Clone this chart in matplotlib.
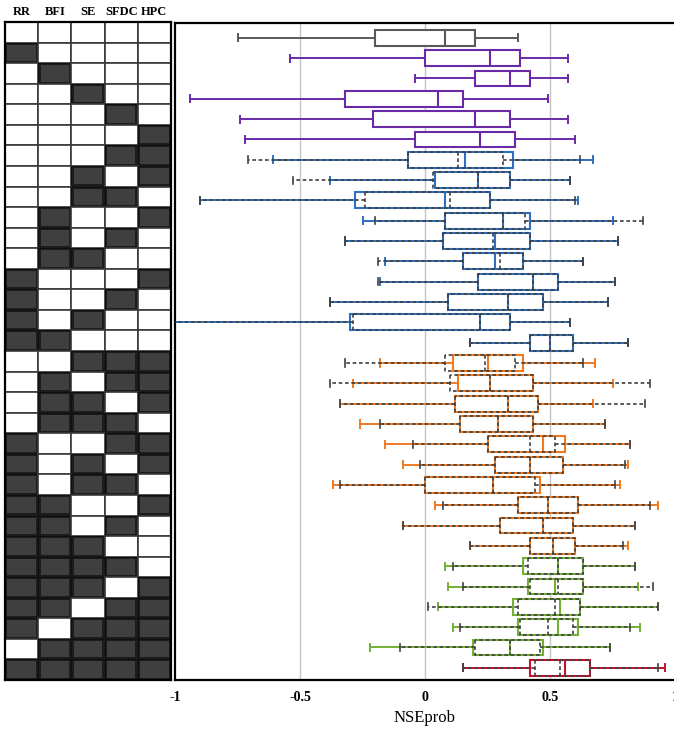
import numpy as np
import matplotlib.pyplot as plt
from matplotlib.patches import Rectangle

# predictor combinations, one per row (top to bottom)
predictors = ["RR", "BFI", "SE", "SFDC", "HPC"]
combos = [
    "", "RR", "BFI", "SE", "SFDC", "HPC",
    "SFDC HPC", "SE HPC", "SE SFDC", "BFI HPC", "BFI SFDC", "BFI SE",
    "RR HPC", "RR SFDC", "RR SE", "RR BFI",
    "SE SFDC HPC", "BFI SFDC HPC", "BFI SE HPC", "BFI SE SFDC", "RR SFDC HPC",
    "RR SE HPC", "RR SE SFDC", "RR BFI HPC", "RR BFI SFDC", "RR BFI SE",
    "RR BFI SE SFDC", "RR BFI SE HPC", "RR BFI SFDC HPC", "RR SE SFDC HPC",
    "BFI SE SFDC HPC", "RR BFI SE SFDC HPC",
]

# NSEprob summary, solid boxes (all 32 rows)
sol_lo = [-0.75, -0.54, -0.04, -0.94, -0.74, -0.72, -0.61, -0.38, -0.90, -0.25, -0.32, -0.16, -0.18, -0.38, -1.05, 0.18,
          -0.18, -0.29, -0.34, -0.26, -0.16, -0.09, -0.37, 0.04, -0.09, 0.18, 0.08, 0.09, 0.05, 0.11, -0.22, 0.15]
sol_q1 = [-0.20, 0.00, 0.20, -0.32, -0.21, -0.04, -0.07, 0.04, -0.28, 0.08, 0.07, 0.15, 0.21, 0.09, -0.30, 0.42,
          0.11, 0.13, 0.12, 0.14, 0.25, 0.28, 0.00, 0.37, 0.30, 0.42, 0.39, 0.41, 0.35, 0.37, 0.19, 0.42]
sol_med = [0.08, 0.26, 0.34, 0.05, 0.20, 0.22, 0.16, 0.21, 0.08, 0.31, 0.28, 0.28, 0.43, 0.33, 0.22, 0.50,
           0.25, 0.26, 0.33, 0.29, 0.47, 0.42, 0.27, 0.49, 0.47, 0.51, 0.53, 0.52, 0.54, 0.53, 0.34, 0.56]
sol_q3 = [0.20, 0.38, 0.42, 0.15, 0.34, 0.36, 0.35, 0.34, 0.26, 0.42, 0.42, 0.39, 0.53, 0.47, 0.34, 0.59,
          0.39, 0.43, 0.45, 0.43, 0.56, 0.55, 0.46, 0.61, 0.59, 0.60, 0.63, 0.63, 0.62, 0.61, 0.47, 0.66]
sol_hi = [0.37, 0.57, 0.57, 0.49, 0.57, 0.60, 0.67, 0.58, 0.61, 0.75, 0.77, 0.63, 0.76, 0.73, 0.58, 0.81,
          0.68, 0.75, 0.67, 0.72, 0.82, 0.81, 0.78, 0.93, 0.84, 0.81, 0.84, 0.85, 0.93, 0.86, 0.74, 0.96]

# dashed boxes, rows 7-32
dsh_lo = [-0.71, -0.53, -0.90, -0.20, -0.32, -0.19, -0.19, -0.38, -1.05, 0.18,
          -0.32, -0.38, -0.34, -0.18, -0.05, -0.02, -0.34, 0.07, -0.09, 0.18, 0.11, 0.15, 0.01, 0.14, -0.10, 0.15]
dsh_q1 = [-0.07, 0.03, -0.24, 0.08, 0.07, 0.15, 0.21, 0.09, -0.29, 0.42,
          0.08, 0.10, 0.12, 0.14, 0.25, 0.28, 0.00, 0.37, 0.30, 0.42, 0.41, 0.42, 0.37, 0.38, 0.20, 0.44]
dsh_med = [0.13, 0.21, 0.10, 0.31, 0.27, 0.30, 0.43, 0.33, 0.22, 0.50,
           0.24, 0.26, 0.33, 0.29, 0.42, 0.42, 0.27, 0.49, 0.47, 0.51, 0.53, 0.53, 0.52, 0.49, 0.34, 0.54]
dsh_q3 = [0.31, 0.34, 0.26, 0.40, 0.42, 0.39, 0.53, 0.47, 0.34, 0.59,
          0.36, 0.43, 0.45, 0.43, 0.52, 0.55, 0.44, 0.61, 0.59, 0.60, 0.63, 0.63, 0.62, 0.59, 0.46, 0.66]
dsh_hi = [0.62, 0.58, 0.60, 0.87, 0.77, 0.63, 0.76, 0.73, 0.58, 0.81,
          0.63, 0.90, 0.88, 0.72, 0.82, 0.80, 0.76, 0.90, 0.84, 0.79, 0.84, 0.91, 0.93, 0.82, 0.74, 0.93]

# colour by number of predictors
n_pred_colors = {0: "#595959", 1: "#6a2aa8", 2: "#2e6fbf", 3: "#f07a22", 4: "#74b034", 5: "#c8102e"}
dash_color = "#404040"

serif = ["Liberation Serif", "DejaVu Serif"]
plt.rcParams["font.family"] = serif

fig = plt.figure(figsize=(6.74, 7.29), dpi=100)
W, H = 674, 729

# ---- left panel: predictor matrix ----
axg = fig.add_axes([5 / W, 1 - 680 / H, 166 / W, 658 / H])
n = len(combos)
mat = np.array([[1 if p in c.split() else 0 for p in predictors] for c in combos])
for i in range(n):
    for j in range(len(predictors)):
        if mat[i, j]:
            axg.add_patch(Rectangle((j, i), 1, 1, facecolor="#1c1c1c", edgecolor="#101010", lw=0.8))
            axg.add_patch(Rectangle((j + 0.07, i + 0.1), 0.86, 0.8, facecolor="#3f3f3f", edgecolor="none"))
        else:
            axg.add_patch(Rectangle((j, i), 1, 1, facecolor="white", edgecolor="#3a3a3a", lw=1.2))
axg.set_xlim(0, len(predictors))
axg.set_ylim(n, 0)
axg.set_xticks([])
axg.set_yticks([])
for s in axg.spines.values():
    s.set_linewidth(1.6)
for j, p in enumerate(predictors):
    axg.text(j + 0.5, -0.2, p, ha="center", va="bottom", fontsize=9, fontweight="bold")

# ---- right panel: NSEprob boxplots ----
ax = fig.add_axes([175 / W, 1 - 680 / H, 500 / W, 657 / H])
for xv in [-0.5, 0, 0.5]:
    ax.axvline(xv, color="#c4c4c4", lw=1.0, zorder=0)

rows = np.arange(1, n + 1)
for k in range(n):
    col = n_pred_colors[len(combos[k].split())]
    st = dict(whislo=sol_lo[k], q1=sol_q1[k], med=sol_med[k], q3=sol_q3[k], whishi=sol_hi[k], fliers=[])
    ax.bxp([st], positions=[rows[k]], widths=0.78, capwidths=0.35, orientation="horizontal",
           patch_artist=True, showfliers=False, manage_ticks=False,
           boxprops=dict(facecolor="white", edgecolor=col, lw=1.5),
           whiskerprops=dict(color=col, lw=1.4), capprops=dict(color=col, lw=1.4),
           medianprops=dict(color=col, lw=1.5), zorder=2)

for k in range(len(dsh_lo)):
    st = dict(whislo=dsh_lo[k], q1=dsh_q1[k], med=dsh_med[k], q3=dsh_q3[k], whishi=dsh_hi[k], fliers=[])
    ls = (0, (2.2, 1.6))
    ax.bxp([st], positions=[rows[k + 6]], widths=0.78, capwidths=0.35, orientation="horizontal",
           showfliers=False, manage_ticks=False,
           boxprops=dict(color=dash_color, lw=1.2, ls=ls),
           whiskerprops=dict(color=dash_color, lw=1.2, ls=ls), capprops=dict(color=dash_color, lw=1.2),
           medianprops=dict(color=dash_color, lw=1.2, ls=ls), zorder=3)

ax.set_xlim(-1, 1)
ax.set_ylim(32.6, 0.27)
ax.set_yticks([])
ax.set_xticks([-1, -0.5, 0, 0.5, 1])
ax.set_xticklabels(["-1", "-0.5", "0", "0.5", "1"], fontweight="bold", fontsize=10)
ax.tick_params(axis="x", length=0, pad=8)
ax.set_xlabel("NSEprob", fontsize=12, labelpad=4)
for s in ax.spines.values():
    s.set_linewidth(1.6)

fig.savefig("out.png", dpi=100)
